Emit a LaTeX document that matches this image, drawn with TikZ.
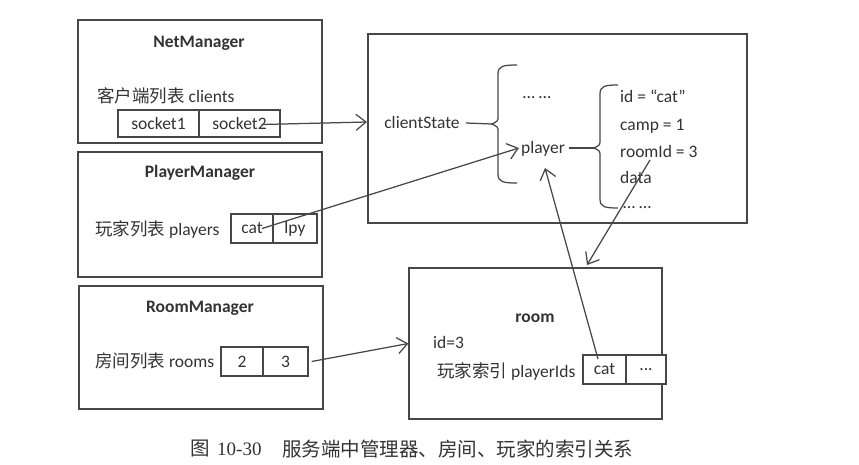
\documentclass[tikz,border=0pt]{standalone}
\usepackage{fontspec}
\setmainfont{Carlito}
\newfontfamily\cjk{Noto Sans CJK SC}
\newfontfamily\capserif{Liberation Serif}
\usetikzlibrary{arrows.meta}
\definecolor{linec}{HTML}{474747}
\definecolor{textc}{HTML}{333333}
\tikzset{
  box/.style={draw=linec, line width=1.25pt, inner sep=0pt},
  cell/.style={draw=linec, line width=1.25pt, fill=white, inner sep=0pt, minimum height=29pt, text=textc,
     font=\fontsize{17.5}{20}\selectfont},
  lbl/.style={inner sep=0pt, text=textc, font=\fontsize{17.5}{20}\selectfont, text height=13pt, text depth=2pt},
  ttl/.style={lbl, font=\fontsize{17.5}{20}\selectfont\bfseries},
  arr/.style={draw=linec, line width=1.25pt, -{Straight Barb[length=10pt,width=16pt,line width=1.25pt]}},
  ln/.style={draw=linec, line width=1.25pt},
}
\begin{document}
\begin{tikzpicture}[x=1pt,y=-1pt]
\useasboundingbox[fill=white] (0,0) rectangle (859,464);

% NetManager
\node[box, minimum width=244pt, minimum height=123pt] (netbox) at (200,81.5) {};
\node[ttl] (nettitle) at (199,42) {NetManager};
\node[lbl, anchor=west] (clients) at (97,97) {{\cjk 客户端列表} clients};
\node[cell, minimum width=81pt, minimum height=27pt] (s1) at (158.5,123.5) {socket1};
\node[cell, minimum width=81pt, minimum height=27pt] (s2) at (239.5,123.5) {socket2};

% PlayerManager
\node[box, minimum width=244pt, minimum height=125pt] (plbox) at (200,214.5) {};
\node[ttl] (pltitle) at (200,172) {PlayerManager};
\node[lbl, anchor=west] (players) at (95,230) {{\cjk 玩家列表} players};
\node[cell, minimum width=42pt] (pcat) at (252,228.5) {cat};
\node[cell, minimum width=44pt] (plpy) at (295,228.5) {lpy};

% RoomManager
\node[box, minimum width=244pt, minimum height=123pt] (rmbox) at (201,347.5) {};
\node[ttl] (rmtitle) at (200,307) {RoomManager};
\node[lbl, anchor=west] (rooms) at (95,362) {{\cjk 房间列表} rooms};
\node[cell, minimum width=42pt] (r2) at (242,361.5) {2};
\node[cell, minimum width=45pt] (r3) at (285.5,361.5) {3};

% clientState box
\node[box, minimum width=379pt, minimum height=189pt] (csbox) at (557.5,128.5) {};
\node[lbl] (cs) at (422,123) {clientState};
\node[lbl] (dots1) at (537,93) {\textellipsis\ \textellipsis};
\node[lbl] (player) at (543,148) {player};
\node[lbl, anchor=west] (pid) at (620,97) {id = “cat”};
\node[lbl, anchor=west] (camp) at (620,125) {camp = 1};
\node[lbl, anchor=west] (roomid) at (620,152) {roomId = 3};
\node[lbl, anchor=west] (data) at (620,178) {data};
\node[lbl, anchor=west] (dots2) at (623,203) {\textellipsis\ \textellipsis};

% braces
\coordinate (b1) at (492,124);
\coordinate (b2) at (594,148);
\draw[ln] (517,65) .. controls (503,65) and (498,66) .. (498,74) -- (498,116)
  .. controls (498,121) .. (b1) .. controls (498,127) .. (498,132) -- (498,174)
  .. controls (498,182) and (503,183) .. (517,183);
\draw[ln] (618,85) .. controls (605,85) and (600,86) .. (600,94) -- (600,140)
  .. controls (600,145) .. (b2) .. controls (600,151) .. (600,156) -- (600,199)
  .. controls (600,207) and (605,208) .. (618,208);
\draw[ln] (cs.east) ++(6pt,0) -- (b1);
\draw[ln] (player.east) ++(4pt,0) -- (b2);

% room box
\node[box, minimum width=253pt, minimum height=151pt] (roombox) at (535.5,343.5) {};
\node[ttl] (roomtitle) at (535,317) {room};
\node[lbl, anchor=west] (rid) at (433,343) {id=3};
\node[lbl, anchor=west] (pids) at (437,372) {{\cjk 玩家索引} playerIds};
\node[cell, minimum width=43pt] (rcat) at (604.5,369.5) {cat};
\node[cell, minimum width=40pt] (rdots) at (646,369.5) {...};

% connectors
\coordinate (csin) at (367,122);
\coordinate (ridstart) at (650,160);
\coordinate (roomtop) at (587,265);
\coordinate (plbottom) at (545,168);
\coordinate (rcatstart) at (598,359);
\draw[arr] ([xshift=22pt,yshift=-1pt]s2.center) -- (csin);
\draw[arr] ([xshift=10pt]pcat.center) -- ([xshift=-2pt]player.west);
\draw[arr] ([xshift=3pt]r3.east) -- (roombox.west);
\draw[arr] (ridstart) -- (roomtop);
\draw[arr] (rcatstart) -- (plbottom);

% caption
\node[inner sep=0pt, anchor=west, text=textc, font=\cjk\fontsize{19.5}{22}\selectfont] (cap1) at (190,449) {图};
\node[inner sep=0pt, anchor=west, text=textc, font=\capserif\fontsize{19}{22}\selectfont] (cap2) at (217,449) {10-30};
\node[inner sep=0pt, anchor=west, text=textc, font=\cjk\fontsize{19.5}{22}\selectfont] (cap3) at (282,449) {服务端中管理器、房间、玩家的索引关系};
\end{tikzpicture}
\end{document}
